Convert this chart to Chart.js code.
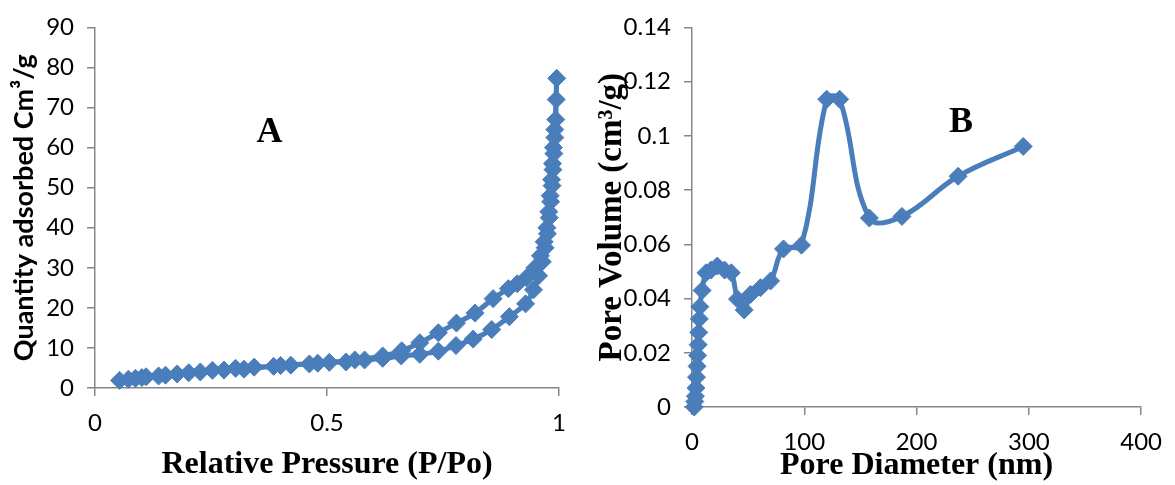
<!DOCTYPE html>
<html>
<head>
<meta charset="utf-8">
<title>N2 sorption isotherm and pore size distribution</title>
<script src="https://cdn.jsdelivr.net/npm/chart.js@4.4.1/dist/chart.umd.min.js"></script>
<style>
  html, body { margin: 0; padding: 0; background: #fff; }
  #wrap { position: relative; width: 1175px; height: 485px; }
  canvas { position: absolute; top: 0; }
  #isotherm { left: 0; }
  #poreDist { left: 585px; }
</style>
</head>
<body>
<div id="wrap">
  <canvas id="isotherm" width="585" height="485"></canvas>
  <canvas id="poreDist" width="590" height="485"></canvas>
</div>
<script>
// Panel A: adsorption branch up to saturation, then desorption back down
const adsPressure = [0.053, 0.072, 0.087, 0.101, 0.110, 0.137, 0.152, 0.177, 0.202, 0.227,
  0.253, 0.303, 0.343, 0.385, 0.422, 0.462, 0.505, 0.541, 0.581, 0.620,
  0.660, 0.700, 0.740, 0.778, 0.815, 0.855, 0.893, 0.928, 0.945, 0.956,
  0.964, 0.970, 0.975, 0.979, 0.982, 0.985, 0.987, 0.989, 0.991, 0.993,
  0.994, 0.995]
const adsQuantity = [1.9, 2.2, 2.4, 2.6, 2.8, 3.0, 3.2, 3.5, 3.8, 4.0,
  4.4, 4.9, 5.2, 5.4, 5.7, 6.0, 6.4, 6.5, 7.0, 7.4,
  8.0, 8.4, 9.2, 10.6, 12.2, 14.6, 17.8, 21.0, 24.5, 28.0,
  31.5, 35.0, 38.5, 42.5, 46.5, 50.5, 54.5, 58.5, 62.5, 67.0,
  72.0, 77.3]
const desPressure = [0.991, 0.988, 0.986, 0.984, 0.981, 0.978, 0.974, 0.968, 0.960, 0.948,
  0.930, 0.910, 0.891, 0.858, 0.819, 0.779, 0.740, 0.700, 0.661, 0.620,
  0.560, 0.480, 0.400, 0.321, 0.278]
const desQuantity = [64.5, 60.0, 56.0, 52.0, 48.0, 44.0, 40.0, 36.5, 33.0, 30.0,
  27.5, 26.0, 24.8, 22.3, 18.7, 16.2, 13.8, 11.3, 9.3, 8.0,
  7.0, 6.2, 5.6, 4.7, 4.5]
const pressureTicks = [0, 0.5, 1]
const quantityTicks = [0, 10, 20, 30, 40, 50, 60, 70, 80, 90]

// Panel B: BJH pore size distribution
const poreDiameter = [2, 2.5, 3, 3.5, 4, 4.5, 5, 5.5, 6, 6.5,
  7, 9, 12.5, 17, 22.5, 29, 35, 40.5, 46.5, 52,
  61, 70, 81.5, 97.5, 120, 131.5, 158, 187, 237, 295]
const poreVolume = [0, 0.002, 0.004, 0.007, 0.011, 0.015, 0.019, 0.023, 0.0275, 0.0325,
  0.037, 0.043, 0.0495, 0.0505, 0.052, 0.0505, 0.0495, 0.0398, 0.0358, 0.0415,
  0.044, 0.0465, 0.0583, 0.0597, 0.1135, 0.1135, 0.0697, 0.0703, 0.0851, 0.0961]
const diameterTicks = [0, 100, 200, 300, 400]
const volumeTicks = [0, 0.02, 0.04, 0.06, 0.08, 0.1, 0.12, 0.14]

const BLUE = '#4a7ebb'
const AXIS_GREY = '#868686'
const TICK_FONT = {family: 'Lato', size: 24}
const SERIF_BOLD = {family: 'Liberation Serif', size: 32, weight: 'bold'}

// big bold letter placed at a data position
const panelLabel = {
  id: 'panelLabel',
  afterDatasetsDraw(chart, args, opts) {
    const {ctx, scales} = chart
    ctx.save()
    ctx.font = 'bold 36px "Liberation Serif"'
    ctx.fillStyle = '#000'
    ctx.textAlign = 'center'
    ctx.textBaseline = 'middle'
    ctx.fillText(opts.text, scales.x.getPixelForValue(opts.x), scales.y.getPixelForValue(opts.y))
    ctx.restore()
  }
}

function toPoints(xs, ys) {
  return xs.map((x, i) => ({x: x, y: ys[i]}))
}

function axis(min, max, tickValues, size, title) {
  return {
    type: 'linear',
    min: min,
    max: max,
    afterBuildTicks: s => { s.ticks = tickValues.map(v => ({value: v})) },
    afterFit: s => {
      if (s.isHorizontal()) s.height = size
      else s.width = size
    },
    grid: {drawOnChartArea: false, tickLength: 8, color: AXIS_GREY, lineWidth: 1.5},
    border: {color: AXIS_GREY, width: 1.5},
    ticks: {color: '#000', font: TICK_FONT, padding: 13, callback: v => String(v)},
    title: Object.assign({display: true, color: '#000'}, title)
  }
}

function seriesStyle(tension) {
  return {
    showLine: true,
    borderColor: BLUE,
    backgroundColor: BLUE,
    borderWidth: 5,
    tension: tension,
    pointStyle: 'rectRot',
    pointRadius: 9,
    pointBorderWidth: 1,
    pointHoverRadius: 9,
    clip: false
  }
}

const commonOptions = {
  responsive: false,
  animation: false,
  devicePixelRatio: 1,
  plugins: {legend: {display: false}, tooltip: {enabled: false}}
}

new Chart(document.getElementById('isotherm'), {
  type: 'scatter',
  data: {
    datasets: [Object.assign({
      label: 'Quantity adsorbed',
      data: toPoints(adsPressure.concat(desPressure), adsQuantity.concat(desQuantity))
    }, seriesStyle(0.3))]
  },
  options: Object.assign({}, commonOptions, {
    layout: {padding: {top: 20, right: 26, left: 0, bottom: 0}},
    plugins: Object.assign({}, commonOptions.plugins, {panelLabel: {text: 'A', x: 0.376, y: 63.6}}),
    scales: {
      x: axis(0, 1, pressureTicks, 97, {
        text: 'Relative Pressure (P/Po)', font: SERIF_BOLD, padding: {top: 0, bottom: 1}
      }),
      y: axis(0, 90, quantityTicks, 95, {
        text: 'Quantity adsorbed Cm³/g', font: {family: 'Lato', size: 27, weight: 'bold'}, padding: {top: 8, bottom: 0}
      })
    }
  }),
  plugins: [panelLabel]
})

new Chart(document.getElementById('poreDist'), {
  type: 'scatter',
  data: {
    datasets: [Object.assign({
      label: 'Pore Volume',
      data: toPoints(poreDiameter, poreVolume)
    }, seriesStyle(0.4))]
  },
  options: Object.assign({}, commonOptions, {
    layout: {padding: {top: 18, right: 27, left: 0, bottom: 0}},
    plugins: Object.assign({}, commonOptions.plugins, {panelLabel: {text: 'B', x: 239.5, y: 0.105}}),
    scales: {
      x: axis(0, 400, diameterTicks, 78, {
        text: 'Pore Diameter (nm)', font: SERIF_BOLD, padding: {top: 0, bottom: 0}
      }),
      y: axis(0, 0.14, volumeTicks, 107, {
        text: 'Pore Volume (cm³/g)', font: {family: 'Liberation Serif', size: 33, weight: 'bold'}, padding: {top: 8, bottom: 0}
      })
    }
  }),
  plugins: [panelLabel]
})
</script>
</body>
</html>
